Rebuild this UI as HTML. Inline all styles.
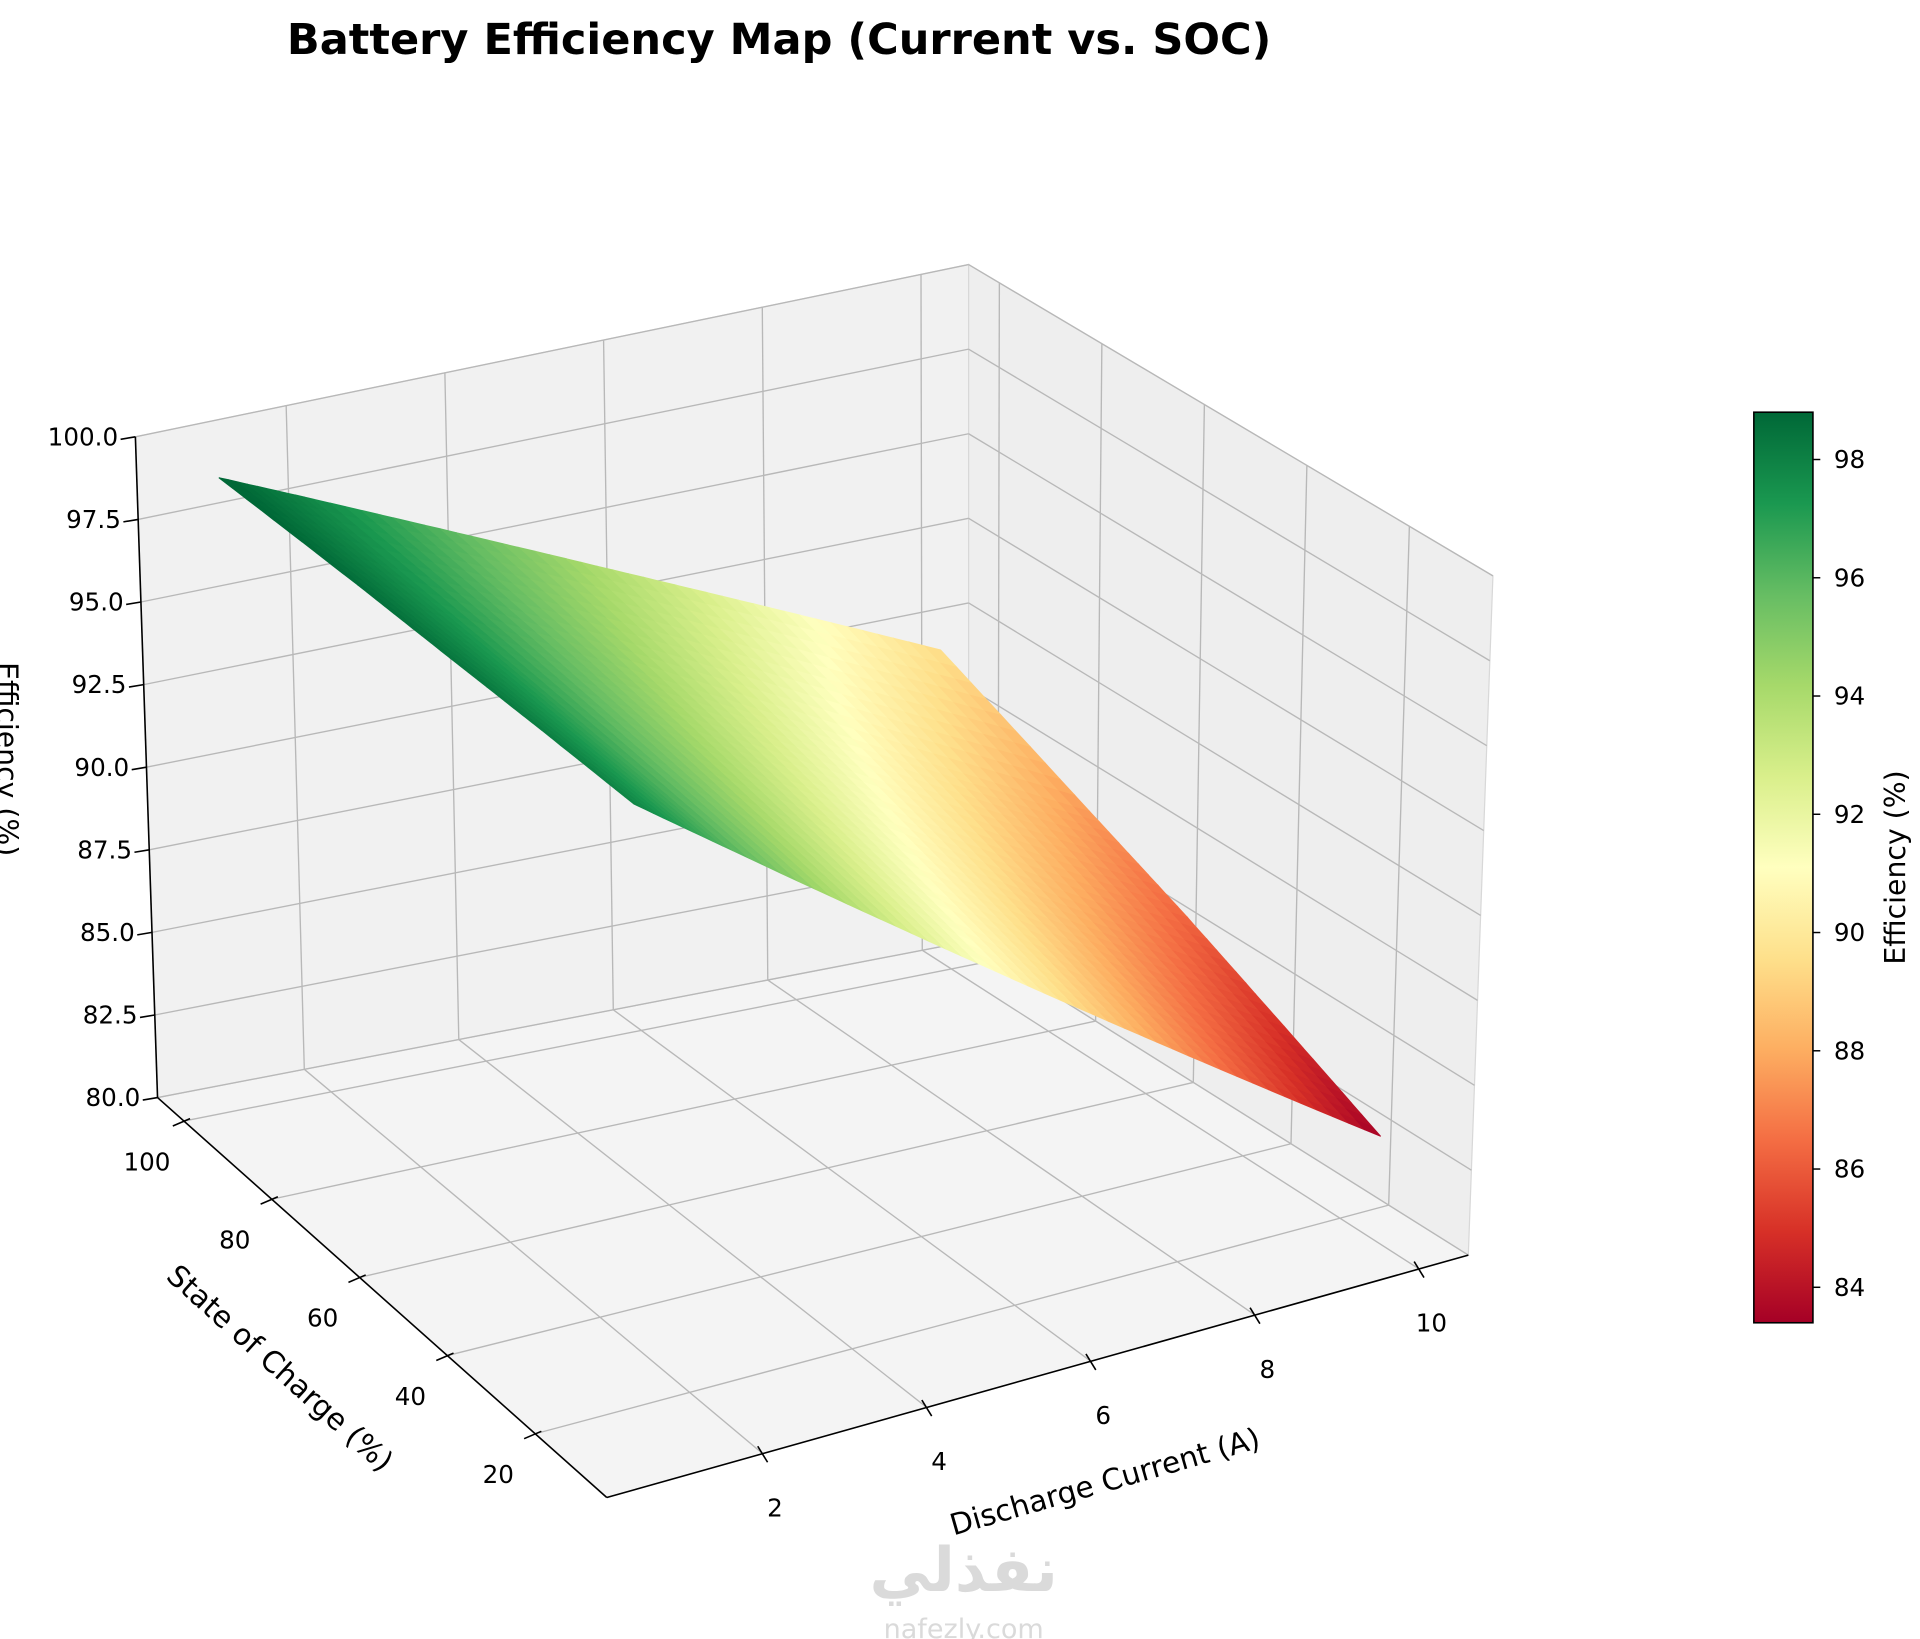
<!DOCTYPE html>
<html><head><meta charset="utf-8"><style>
html,body{margin:0;padding:0;background:#fff;}
svg{display:block;font-family:"DejaVu Sans","Liberation Sans","Noto Sans CJK SC",sans-serif;}
</style></head><body>
<svg id="chart" width="1920" height="1639" viewBox="0 0 1560 1332" preserveAspectRatio="none" xmlns="http://www.w3.org/2000/svg">
<rect width="1560" height="1332" fill="#fff"/>
<text x="633" y="44" text-anchor="middle" font-size="35" font-weight="bold" fill="#000">Battery Efficiency Map (Current vs. SOC)</text>
<g id="panes"></g><g id="grid"></g><g id="surface"></g><g id="axes"></g>
<text transform="translate(-2,617) rotate(90)" text-anchor="middle" font-size="23" fill="#000">Efficiency (%)</text>
<text transform="translate(222,1118) rotate(42)" text-anchor="middle" font-size="24" fill="#000">State of Charge (%)</text>
<text transform="translate(900,1212) rotate(-16)" text-anchor="middle" font-size="24" fill="#000">Discharge Current (A)</text>
<g id="colorbar"></g>
<text transform="translate(1548,705) rotate(-90)" text-anchor="middle" font-size="23" fill="#000">Efficiency (%)</text>
<text x="783" y="1293" text-anchor="middle" font-size="50" font-weight="bold" fill="#dadada">نفذلي</text>
<text x="783" y="1331" text-anchor="middle" font-size="22" fill="#dadada">nafezly.com</text>
</svg>
<script>
const currents=[0.8,2,4,6,8,10];
const socs=[10,30,50,70,100];
const eff=[
[97.9,96.02,92.87,89.71,86.56,83.4],
[98.16,96.42,93.51,90.59,87.67,84.8],
[98.4,96.81,94.15,91.48,88.79,86.2],
[98.66,97.2,94.8,92.36,89.9,87.5],
[99.0,97.77,95.7,93.63,91.57,89.5]];
const currentTicks=[2,4,6,8,10];
const socTicks=[20,40,60,80,100];
const zTicks=[80,82.5,85,87.5,90,92.5,95,97.5,100];
const cbTicks=[84,86,88,90,92,94,96,98];
const X0=0.1,X1=10.75,Y0=3.7,Y1=106,Z0=80,Z1=100,CMIN=83.4,CMAX=98.8;
const F00=[493,1217],F10=[1193,1020],F01=[128,892],F11=[787,765];
const T00=[491,617],T10=[1213,468],T01=[110,355],T11=[787,215];
const NS="http://www.w3.org/2000/svg";
function bl(a,b,c,d,u,v){return[a[0]*(1-u)*(1-v)+b[0]*u*(1-v)+c[0]*(1-u)*v+d[0]*u*v,a[1]*(1-u)*(1-v)+b[1]*u*(1-v)+c[1]*(1-u)*v+d[1]*u*v];}
function P(x,y,z){const u=(x-X0)/(X1-X0),v=(y-Y0)/(Y1-Y0),w=(z-Z0)/(Z1-Z0);
const f=bl(F00,F10,F01,F11,u,v),t=bl(T00,T10,T01,T11,u,v);return[f[0]+(t[0]-f[0])*w,f[1]+(t[1]-f[1])*w];}
function PT(x,y,z){const u=(x-0.1)/(10.6-0.1),v=(y-Y0)/(Y1-Y0),w=(z-Z0)/(Z1-Z0);
const f=bl(F00,F10,F01,F11,u,v),t=bl(T00,T10,T01,T11,u,v);return[f[0]+(t[0]-f[0])*w,f[1]+(t[1]-f[1])*w];}
const stops=["#a50026","#d73027","#f46d43","#fdae61","#fee08b","#ffffbf","#d9ef8b","#a6d96a","#66bd63","#1a9850","#006837"];
function hx(h){return[parseInt(h.substr(1,2),16),parseInt(h.substr(3,2),16),parseInt(h.substr(5,2),16)];}
function cmap(val){let t=(val-CMIN)/(CMAX-CMIN);t=Math.max(0,Math.min(1,t))*10;const i=Math.min(9,Math.floor(t)),f=t-i;
const a=hx(stops[i]),b=hx(stops[i+1]);return"rgb("+a.map((x,k)=>Math.round(x+(b[k]-x)*f)).join(",")+")";}
function mk(tag,attrs,parent){const e=document.createElementNS(NS,tag);for(const k in attrs)e.setAttribute(k,attrs[k]);parent.appendChild(e);return e;}
function pts(a){return a.map(p=>p[0].toFixed(1)+","+p[1].toFixed(1)).join(" ");}
const panes=document.getElementById("panes");
let e;
e=mk("polygon",{points:pts([F00,F10,F11,F01]),fill:"#f4f4f4",stroke:"#d8d8d8"},panes);


e=mk("polygon",{points:pts([F01,F11,T11,T01]),fill:"#f1f1f1",stroke:"#d8d8d8"},panes);


e=mk("polygon",{points:pts([F11,F10,T10,T11]),fill:"#eeeeee",stroke:"#d8d8d8"},panes);


const grid=document.getElementById("grid");
function gl(a,b,name){const l=mk("line",{x1:a[0],y1:a[1],x2:b[0],y2:b[1],stroke:"#b8b8b8","stroke-width":1.1},grid);

}
currentTicks.forEach(c=>{gl(PT(c,Y0,Z0),PT(c,Y1,Z0),'grid-current-floor');gl(PT(c,Y1,Z0),PT(c,Y1,Z1),'grid-current-wall');});
socTicks.forEach(s=>{gl(P(X0,s,Z0),P(X1,s,Z0),'grid-soc-floor');gl(P(X1,s,Z0),P(X1,s,Z1),'grid-soc-wall');});
zTicks.forEach(z=>{gl(P(X0,Y1,z),P(X1,Y1,z),'grid-z-back');gl(P(X1,Y1,z),P(X1,Y0,z),'grid-z-side');});
const surf=document.getElementById("surface");
const SUB=10;
for(let j=0;j<socs.length-1;j++)for(let i=0;i<currents.length-1;i++){
 for(let b=0;b<SUB;b++)for(let a=0;a<SUB;a++){
  const u0=a/SUB,u1=(a+1)/SUB,v0=b/SUB,v1=(b+1)/SUB;
  const E=(u,v)=>eff[j][i]*(1-u)*(1-v)+eff[j][i+1]*u*(1-v)+eff[j+1][i]*(1-u)*v+eff[j+1][i+1]*u*v;
  const X=u=>currents[i]+(currents[i+1]-currents[i])*u, Y=v=>socs[j]+(socs[j+1]-socs[j])*v;
  const q=[P(X(u0),Y(v0),E(u0,v0)),P(X(u1),Y(v0),E(u1,v0)),P(X(u1),Y(v1),E(u1,v1)),P(X(u0),Y(v1),E(u0,v1))];
  const col=cmap(E((u0+u1)/2,(v0+v1)/2));
  const p=mk("polygon",{points:pts(q),fill:col,stroke:col,"stroke-width":0.8},surf);
  
  
 }}
const ax=document.getElementById("axes");
function al(a,b,name){const l=mk("line",{x1:a[0],y1:a[1],x2:b[0],y2:b[1],stroke:"#000","stroke-width":1.3},ax);

}
function tx(x,y,s,anchor,name){const t=mk("text",{x:x,y:y,"text-anchor":anchor,"font-size":20,fill:"#000"},ax);t.textContent=s;

}
al(P(X0,Y1,Z0),P(X0,Y1,Z1),'z-axis-line');
al(P(X0,Y1,Z0),P(X0,Y0,Z0),'soc-axis-line');
al(P(X0,Y0,Z0),P(X1,Y0,Z0),'current-axis-line');
zTicks.forEach(z=>{const p=P(X0,Y1,z);al(p,[p[0]-12,p[1]+2],'z-tick');tx(p[0]-14,p[1]+7,z.toFixed(1),"end",'z-tick-label');});
socTicks.forEach(s=>{const p=P(X0,s,Z0);al([p[0]+5,p[1]-2],[p[0]-9,p[1]+4],'soc-tick');tx(p[0]-30,p[1]+40,String(s),"middle",'soc-tick-label');});
currentTicks.forEach(c=>{const p=PT(c,Y0,Z0);al([p[0]-4,p[1]-6],[p[0]+4,p[1]+7],'current-tick');tx(p[0]+10,p[1]+51,String(c),"middle",'current-tick-label');});
const cb=document.getElementById("colorbar");
const defs=mk("defs",{},cb);
const lg=mk("linearGradient",{id:"cbg",x1:0,y1:1,x2:0,y2:0},defs);
stops.forEach((s,k)=>mk("stop",{offset:k/10,"stop-color":s},lg));
const CBX=1425,CBW=48,CBT=335,CBB=1075;
const cbr=mk("rect",{x:CBX,y:CBT,width:CBW,height:CBB-CBT,fill:"url(#cbg)",stroke:"#000","stroke-width":1.3},cb);


cbTicks.forEach(t=>{const y=CBB-(t-CMIN)/(CMAX-CMIN)*(CBB-CBT);
 const l=mk("line",{x1:CBX+CBW,y1:y,x2:CBX+CBW+6,y2:y,stroke:"#000","stroke-width":1.2},cb);
 
 
 const tt=mk("text",{x:CBX+CBW+17,y:y+7,"font-size":20,fill:"#000"},cb);tt.textContent=String(t);
 
 });
</script>
</body></html>
